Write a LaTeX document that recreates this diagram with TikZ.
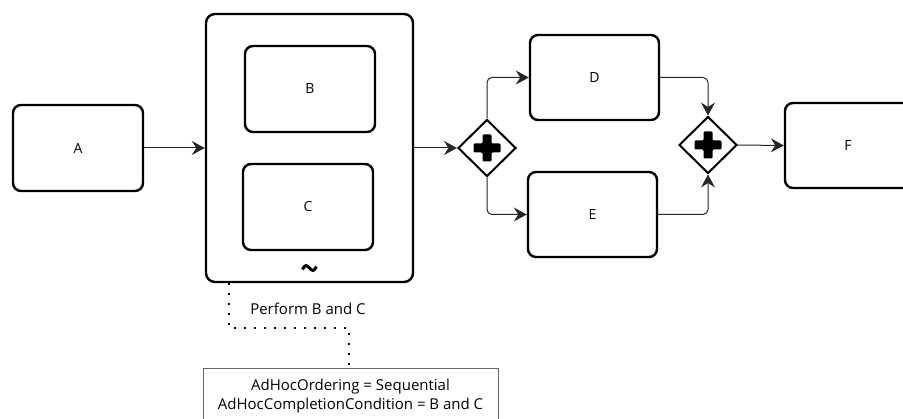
\documentclass[tikz,border=0pt]{standalone}
\usepackage{fontspec}
\setmainfont{Open Sans}
\usetikzlibrary{arrows.meta,shapes.geometric}

\tikzset{
  task/.style={draw=black, line width=2.4pt, rounded corners=8pt,
    minimum width=130pt, minimum height=86pt, inner sep=0pt,
    font=\fontsize{14}{16}\selectfont},
  subproc/.style={draw=black, line width=2.4pt, rounded corners=9pt,
    minimum width=207pt, minimum height=268pt, inner sep=0pt},
  gate/.style={draw=black, line width=2pt, diamond, aspect=1,
    minimum width=58pt, minimum height=57pt, inner sep=0pt},
  flow/.style={draw=black!85, line width=1pt, rounded corners=5pt,
    -{Stealth[length=13pt,width=14pt,inset=4.5pt]}},
  assoc/.style={draw=black, line width=1.7pt,
    dash pattern=on 1.7pt off 8.3pt},
  note/.style={draw=black!60, line width=1pt, minimum width=295pt,
    minimum height=54pt, inner sep=0pt, align=center,
    font=\fontsize{15}{19}\selectfont},
  lbl/.style={font=\fontsize{15}{17}\selectfont}
}

% solid parallel-gateway cross, centred on the current origin
\newcommand{\pluscross}{%
  \fill[rounded corners=1.2pt] (-4.5,-13.5) -- (4.5,-13.5) -- (4.5,-4.5) --
    (13.5,-4.5) -- (13.5,4.5) -- (4.5,4.5) -- (4.5,13.5) -- (-4.5,13.5) --
    (-4.5,4.5) -- (-13.5,4.5) -- (-13.5,-4.5) -- (-4.5,-4.5) -- cycle;}

\begin{document}
\begin{tikzpicture}[x=1pt, y=-1pt]
\useasboundingbox (0,0) rectangle (903,419);

% tasks
\node[task] (A) at (78,148) {A};
\node[subproc] (Sub) at (309.5,148) {};
\node[task] (B) at (310,89) {B};
\node[task] (C) at (308,207) {C};
\node[task, minimum width=129pt, minimum height=85pt] (D) at (594.5,77.5) {D};
\node[task, minimum width=129pt, minimum height=85pt] (E) at (592.5,214.5) {E};
\node[task, minimum width=126pt, minimum height=85pt] (F) at (848,145.5) {F};

% ad-hoc marker
\draw[line width=3pt] (302.5,269.5) sin (306,265.5) cos (309.5,268) sin (313,270.5) cos (316.5,266.5);

% gateways
\node[gate] (G1) at (487,148) {};
\begin{scope}[shift={(G1.center)}]\pluscross\end{scope}
\node[gate] (G2) at (708,145) {};
\begin{scope}[shift={(G2.center)}]\pluscross\end{scope}

% sequence flows
\draw[flow] (A.east) -- (Sub.west);
\draw[flow] (Sub.east) -- (G1.west);
\draw[flow] (G1.north) |- (D.west);
\draw[flow] (G1.south) |- (E.west);
\draw[flow] (D.east) -| (G2.north);
\draw[flow] (E.east) -| (G2.south);
\draw[flow] (G2.east) -- (F.west);

% text annotation and its association
\node[note] (N) at (350.5,396) {AdHocOrdering = Sequential\\AdHocCompletionCondition = B and C};
\coordinate (k1) at (229,328);
\coordinate (k2) at (349,328);
\draw[assoc] (Sub.south -| k1) -- (k1) -- (k2) -- (N.north -| k2);
\node[lbl] (P) at (308,309) {Perform B and C};
\end{tikzpicture}
\end{document}
